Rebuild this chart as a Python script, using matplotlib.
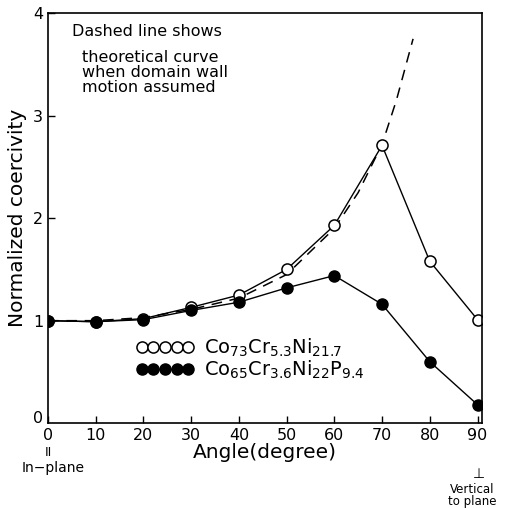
import matplotlib.pyplot as plt

# angle in degrees, normalized coercivity
angles = [0, 10, 20, 30, 40, 50, 60, 70, 80, 90]
cocrni = [1.00, 0.99, 1.02, 1.13, 1.25, 1.50, 1.93, 2.71, 1.58, 1.01]
cocrnip = [1.00, 0.99, 1.01, 1.10, 1.18, 1.32, 1.44, 1.16, 0.60, 0.18]

# theoretical curve (domain wall motion), dashed
theory_angles = [0, 10, 20, 30, 40, 50, 60, 65, 70, 73, 76.5]
theory_vals = [1.00, 1.00, 1.03, 1.11, 1.22, 1.45, 1.90, 2.25, 2.72, 3.15, 3.75]

xticks = [0, 10, 20, 30, 40, 50, 60, 70, 80, 90]
yticks = [1, 2, 3, 4]

fig = plt.figure(figsize=(5.05, 5.08), dpi=100)
ax = fig.add_axes([0.095, 0.167, 0.86, 0.807])

ax.plot(theory_angles, theory_vals, ls=(0, (7, 5)), color="black", lw=1.1)
ax.plot(angles, cocrni, "-o", color="black", mfc="white", mec="black", ms=8, lw=1.0, mew=1.1,
        label=r"Co$_{73}$Cr$_{5.3}$Ni$_{21.7}$")
ax.plot(angles, cocrnip, "-o", color="black", mfc="black", mec="black", ms=8, lw=1.0,
        label=r"Co$_{65}$Cr$_{3.6}$Ni$_{22}$P$_{9.4}$")

ax.set_xlim(0, 91)
ax.set_ylim(0, 4)
ax.set_xticks(xticks)
ax.set_yticks(yticks)
ax.tick_params(direction="in", length=5, labelsize=11.5, width=1)
for s in ax.spines.values():
    s.set_linewidth(1.2)
ax.text(-0.012, 0.012, "0", transform=ax.transAxes, ha="right", va="center", fontsize=11.5)

ax.set_xlabel("Angle(degree)", fontsize=14.5, labelpad=0)
ax.set_ylabel("Normalized coercivity", fontsize=14.5, labelpad=4)

ax.text(0.055, 0.955, "Dashed line shows", transform=ax.transAxes, fontsize=11.5, va="center")
ax.text(0.078, 0.855, "theoretical curve\nwhen domain wall\nmotion assumed",
        transform=ax.transAxes, fontsize=11.5, va="center", linespacing=1.0)

ax.legend(loc="upper left", bbox_to_anchor=(0.18, 0.235), numpoints=5, handlelength=3.0,
          frameon=False, fontsize=14, handletextpad=0.5, labelspacing=0.0, borderpad=0)

fig.text(48 / 505, 1 - 453 / 508, "II", ha="center", va="center", fontsize=9)
fig.text(22 / 505, 1 - 468 / 508, "In\u2212plane", ha="left", va="center", fontsize=10)
fig.text(479 / 505, 1 - 474 / 508, "\u22a5", ha="center", va="center", fontsize=10)
fig.text(472 / 505, 1 - 483 / 508, "Vertical\nto plane", ha="center", va="top", fontsize=8.5, linespacing=0.9)

fig.savefig("out.png", dpi=100)
